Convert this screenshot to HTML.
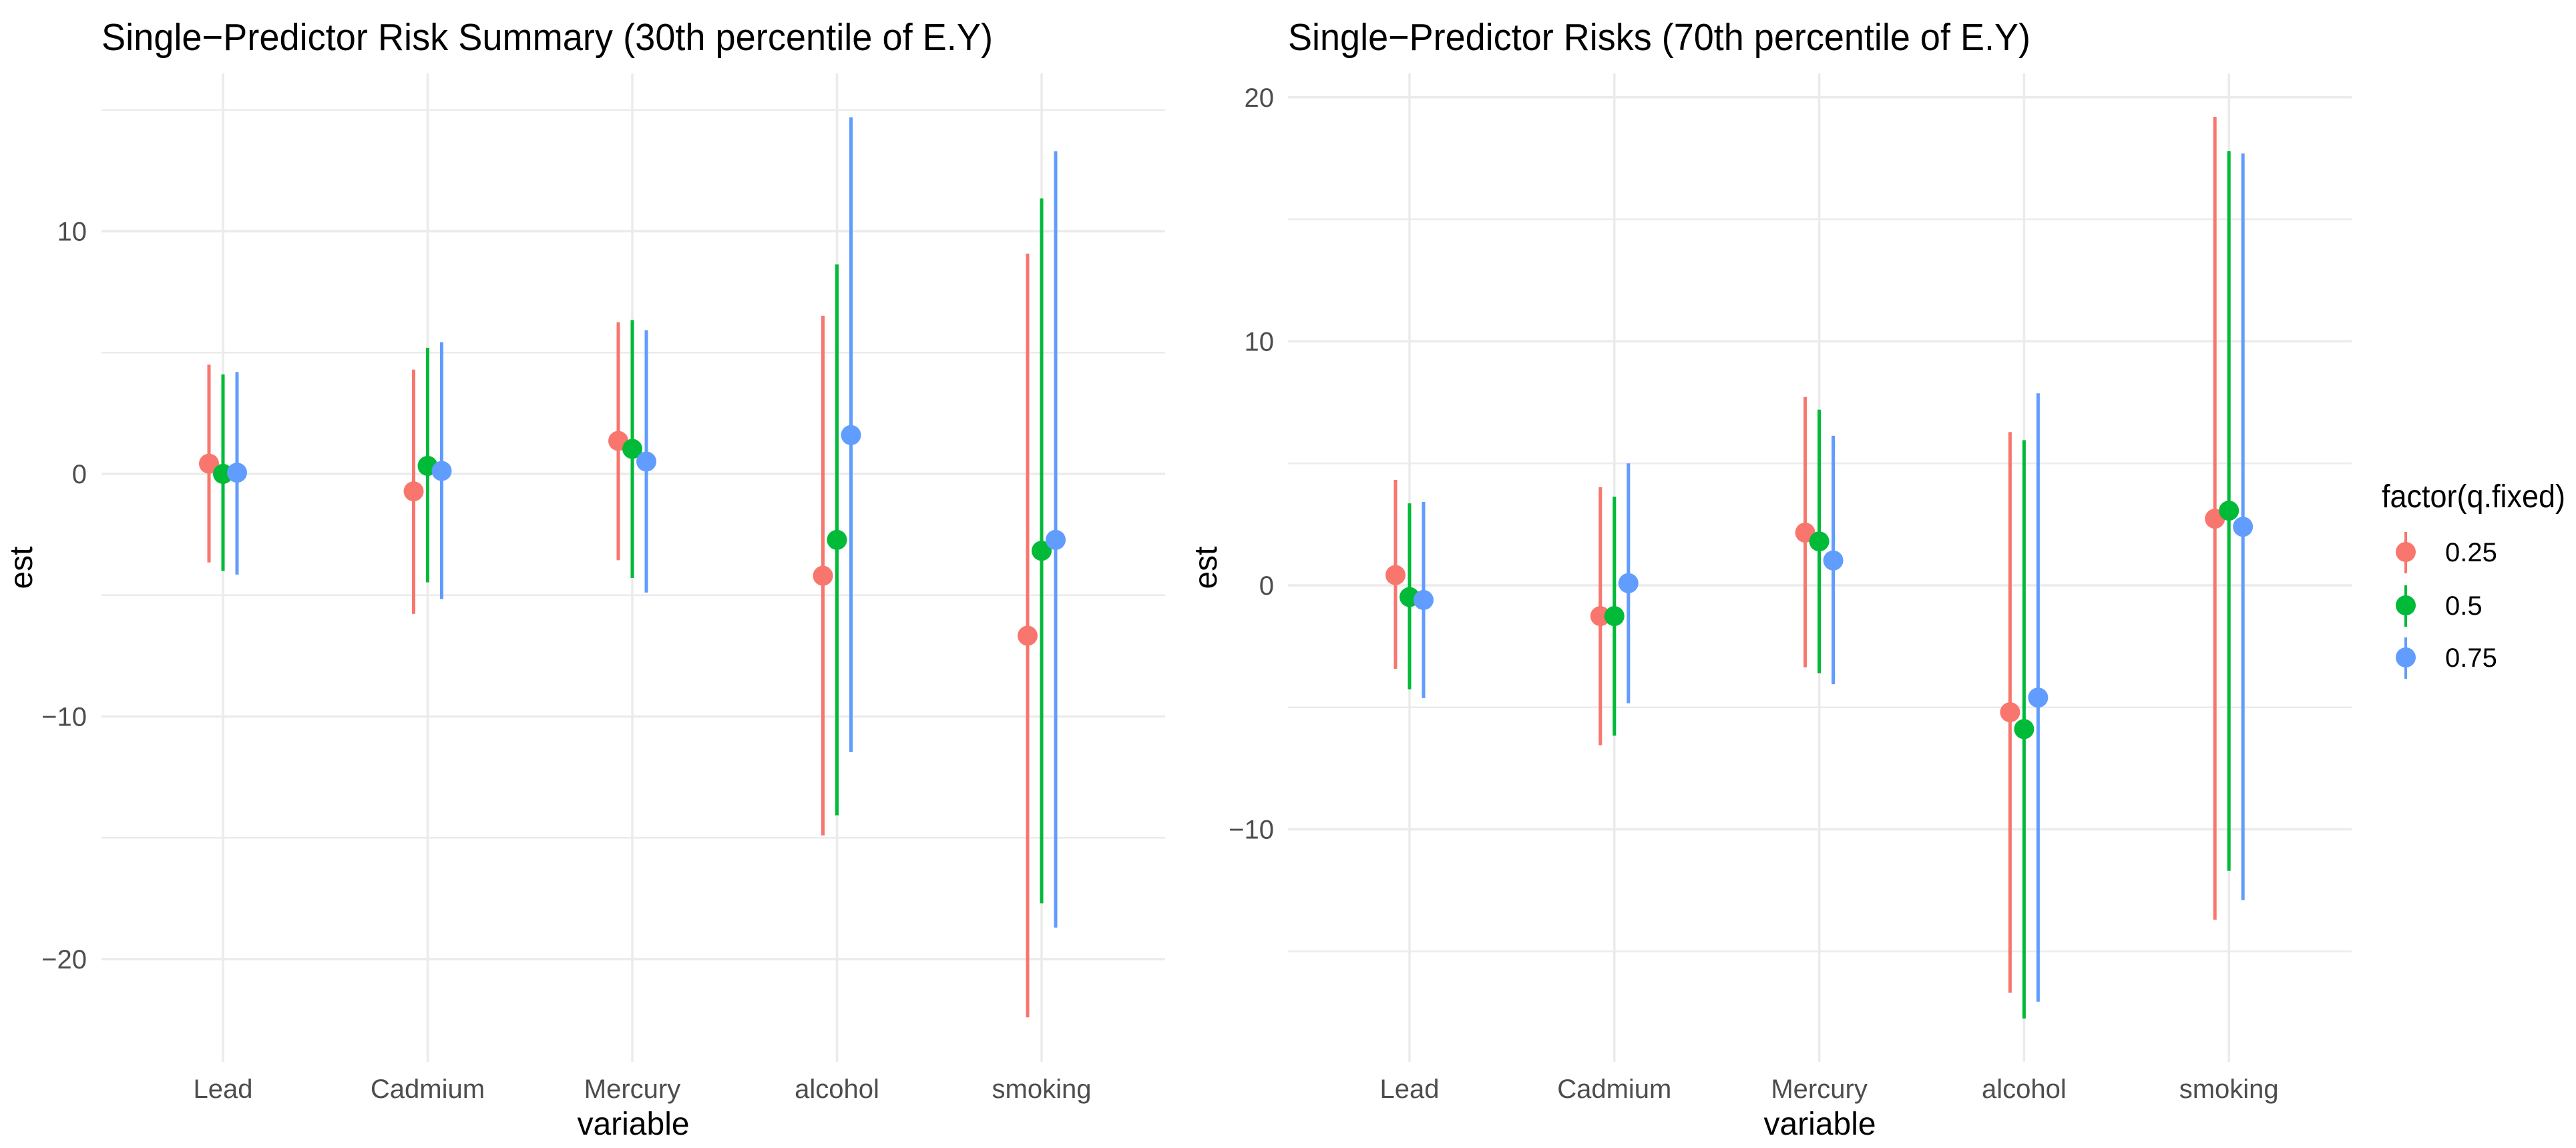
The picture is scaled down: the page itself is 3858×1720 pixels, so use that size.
<!DOCTYPE html>
<html><head><meta charset="utf-8"><style>
html,body{margin:0;padding:0;background:#fff;}
svg{display:block;font-family:"Liberation Sans",Arial,sans-serif;}
</style></head><body>
<svg id="chart" width="3858" height="1720" viewBox="0 0 3858 1720" xmlns="http://www.w3.org/2000/svg"></svg>
<script>
const categories = ["Lead","Cadmium","Mercury","alcohol","smoking"];
const groups = ["0.25","0.5","0.75"];
const colors = ["#F8766D","#00BA38","#619CFF"];
// Left panel (30th percentile)
const leftEst = [[0.42,-0.72,1.36,-4.2,-6.67],[0.0,0.33,1.03,-2.72,-3.17],[0.05,0.12,0.51,1.6,-2.72]];
const leftHi  = [[4.5,4.3,6.25,6.52,9.08],[4.1,5.2,6.34,8.63,11.35],[4.2,5.43,5.92,14.7,13.3]];
const leftLo  = [[-3.65,-5.77,-3.56,-14.9,-22.4],[-4.0,-4.47,-4.29,-14.07,-17.7],[-4.15,-5.16,-4.89,-11.47,-18.7]];
const leftTicks = [10,0,-10,-20];
const leftMinor = [15,5,-5,-15];
// Right panel (70th percentile)
const rightEst = [[0.42,-1.26,2.16,-5.2,2.73],[-0.48,-1.26,1.8,-5.89,3.06],[-0.6,0.09,1.02,-4.6,2.4]];
const rightHi  = [[4.32,4.02,7.72,6.28,19.2],[3.36,3.63,7.2,5.95,17.8],[3.42,5.0,6.13,7.87,17.7]];
const rightLo  = [[-3.42,-6.55,-3.36,-16.7,-13.7],[-4.26,-6.16,-3.6,-17.75,-11.7],[-4.62,-4.83,-4.05,-17.06,-12.9]];
const rightTicks = [20,10,0,-10];
const rightMinor = [15,5,-5,-15];

const NS="http://www.w3.org/2000/svg";
const svg=document.getElementById('chart');
function mk(tag,attrs,parent,text){const e=document.createElementNS(NS,tag);for(const k in attrs)e.setAttribute(k,attrs[k]);if(text!==undefined)e.textContent=text;(parent||svg).appendChild(e);return e;}

function panel(cfg){
  const g=mk('g',{});
  
  
  const y=v=>cfg.zeroY - v*cfg.unit;
  const x=i=>cfg.x0 + i*cfg.step;
  cfg.minor.forEach(v=>{
    const l=mk('line',{x1:cfg.left,x2:cfg.right,y1:y(v),y2:y(v),stroke:'#EBEBEB','stroke-width':2.5},g);
    
    
  });
  cfg.ticks.forEach(v=>{
    const l=mk('line',{x1:cfg.left,x2:cfg.right,y1:y(v),y2:y(v),stroke:'#EBEBEB','stroke-width':3.5},g);
    
    
    const t=mk('text',{x:cfg.tickX,y:y(v)+14,'text-anchor':'end','font-size':40,fill:'#4D4D4D'},g,v<0?'\u2212'+Math.abs(v):String(v));
    
    
  });
  categories.forEach((c,i)=>{
    const l=mk('line',{x1:x(i),x2:x(i),y1:cfg.top,y2:cfg.bottom,stroke:'#EBEBEB','stroke-width':3.5},g);
    
    
    const t=mk('text',{x:x(i),y:1645,'text-anchor':'middle','font-size':40,fill:'#4D4D4D'},g,c);
    
    
  });
  for(let s=0;s<3;s++){
    categories.forEach((c,i)=>{
      const xx=x(i)+(s-1)*cfg.dodge;
      const l=mk('line',{x1:xx,x2:xx,y1:y(cfg.hi[s][i]),y2:y(cfg.lo[s][i]),stroke:colors[s],'stroke-width':5},g);
      
      
      const p=mk('circle',{cx:xx,cy:y(cfg.est[s][i]),r:15,fill:colors[s]},g);
      
      
    });
  }
  const tt=mk('text',{x:cfg.titleX,y:75,'font-size':57,fill:'#000',textLength:cfg.titleLen,lengthAdjust:'spacingAndGlyphs'},g,cfg.title);
  
  
  const xt=mk('text',{x:(cfg.left+cfg.right)/2,y:1700,'text-anchor':'middle','font-size':48,fill:'#000'},g,'variable');
  
  
  const yt=mk('text',{x:0,y:0,'text-anchor':'middle','font-size':48,fill:'#000',transform:'translate('+cfg.estX+','+((cfg.top+cfg.bottom)/2)+') rotate(-90)'},g,'est');
  
  
}

panel({name:'left-panel',title:'Single\u2212Predictor Risk Summary (30th percentile of E.Y)',titleX:152,titleLen:1335,
  left:152,right:1745,top:110,bottom:1591,zeroY:710,unit:36.35,x0:334,step:306.5,dodge:21,
  tickX:130,estX:48,ticks:leftTicks,minor:leftMinor,est:leftEst,hi:leftHi,lo:leftLo});
panel({name:'right-panel',title:'Single\u2212Predictor Risks (70th percentile of E.Y)',titleX:1929,titleLen:1112,
  left:1929,right:3522,top:110,bottom:1591,zeroY:877,unit:36.56,x0:2111,step:306.8,dodge:21,
  tickX:1908,estX:1822,ticks:rightTicks,minor:rightMinor,est:rightEst,hi:rightHi,lo:rightLo});

const lg=mk('g',{});


const lt=mk('text',{x:3567,y:760,'font-size':48,fill:'#000',textLength:275,lengthAdjust:'spacingAndGlyphs'},lg,'factor(q.fixed)');


const ly=[827,907,985];
groups.forEach((gname,s)=>{
  const e=mk('g',{},lg);
  
  
  mk('line',{x1:3603,x2:3603,y1:ly[s]-30,y2:ly[s]+32,stroke:colors[s],'stroke-width':4},e);
  mk('circle',{cx:3603,cy:ly[s],r:15,fill:colors[s]},e);
  mk('text',{x:3662,y:ly[s]+14,'font-size':40,fill:'#000'},e,gname);
});
</script>
</body></html>
